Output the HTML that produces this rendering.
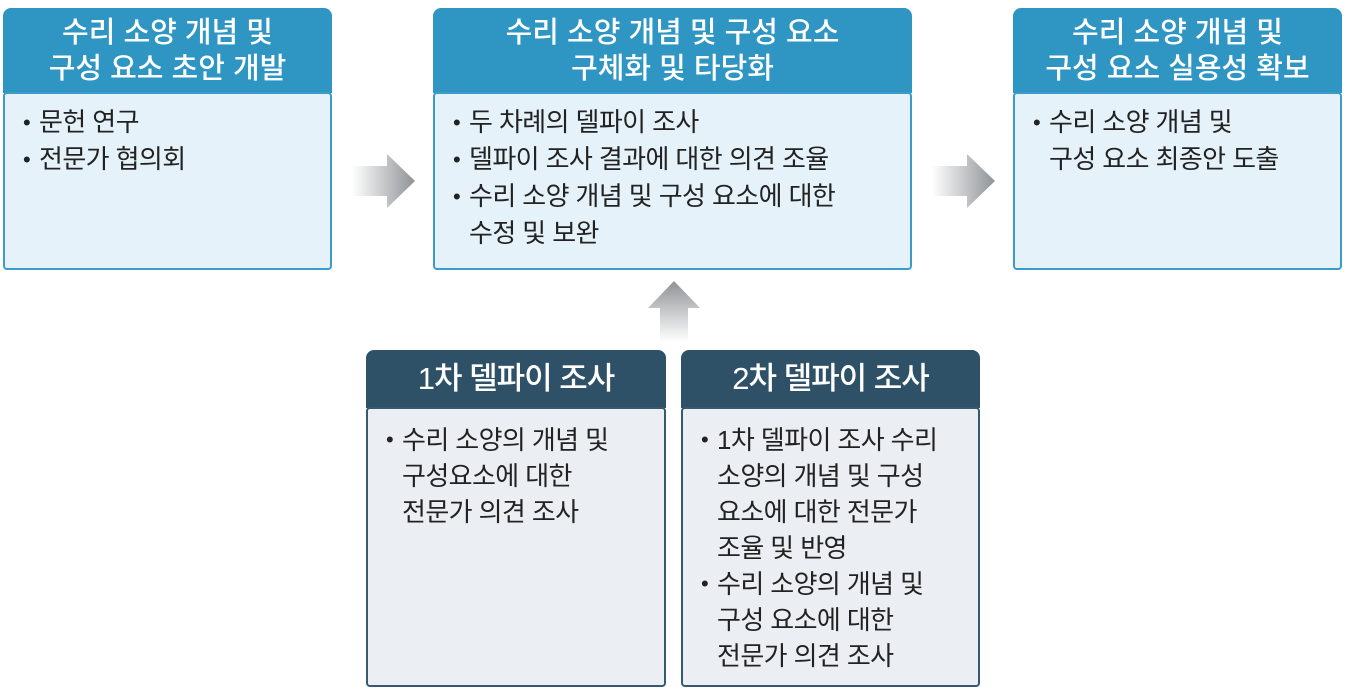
<!DOCTYPE html>
<html><head><meta charset="utf-8"><style>
body{margin:0;width:1346px;height:691px;background:#fff;position:relative;overflow:hidden;font-family:"Liberation Sans","Noto Sans CJK KR",sans-serif}
.h{position:absolute;color:#fff;text-align:center;border-radius:8px 8px 0 0;box-sizing:border-box;display:flex;align-items:center;justify-content:center;line-height:36px}
.b{position:absolute;box-sizing:border-box;border-radius:4px;color:#222;font-size:26px;letter-spacing:-0.6px;line-height:37px;padding:10px 8px 0 10px}
.blue .h{background:#2f96c4;font-size:29px;font-weight:500}
.blue .b{background:#e5f2fa;border:2px solid #3b9ccb}
.dark .h{background:#2f5168;font-size:31px;font-weight:500;letter-spacing:-1px}
.dark .b{background:#ebeff3;border:2px solid #385a70;line-height:36px;padding-top:13px}
ul{margin:0;padding:0 0 0 24px;list-style:none}
li{position:relative}
li:before{content:"•";position:absolute;left:-16px;font-size:22px}
</style></head><body>
<div class="blue">
<div class="h" style="left:3px;top:8px;width:329px;height:85px">수리 소양 개념 및<br>구성 요소 초안 개발</div>
<div class="b" style="left:3px;top:92px;width:329px;height:178px"><ul><li>문헌 연구</li><li>전문가 협의회</li></ul></div>
<div class="h" style="left:433px;top:8px;width:479px;height:85px">수리 소양 개념 및 구성 요소<br>구체화 및 타당화</div>
<div class="b" style="left:433px;top:92px;width:479px;height:178px"><ul><li>두 차례의 델파이 조사</li><li>델파이 조사 결과에 대한 의견 조율</li><li>수리 소양 개념 및 구성 요소에 대한<br>수정 및 보완</li></ul></div>
<div class="h" style="left:1013px;top:8px;width:329px;height:85px">수리 소양 개념 및<br>구성 요소 실용성 확보</div>
<div class="b" style="left:1013px;top:92px;width:329px;height:178px"><ul><li>수리 소양 개념 및<br>구성 요소 최종안 도출</li></ul></div>
</div>
<div class="dark">
<div class="h" style="left:366px;top:350px;width:300px;height:58px">1차 델파이 조사</div>
<div class="b" style="left:366px;top:407px;width:300px;height:280px"><ul><li>수리 소양의 개념 및<br>구성요소에 대한<br>전문가 의견 조사</li></ul></div>
<div class="h" style="left:681px;top:350px;width:299px;height:58px">2차 델파이 조사</div>
<div class="b" style="left:681px;top:407px;width:299px;height:280px"><ul><li>1차 델파이 조사 수리<br>소양의 개념 및 구성<br>요소에 대한 전문가<br>조율 및 반영</li><li>수리 소양의 개념 및<br>구성 요소에 대한<br>전문가 의견 조사</li></ul></div>
</div>
<svg width="1346" height="691" style="position:absolute;left:0;top:0" xmlns="http://www.w3.org/2000/svg">
<defs>
<linearGradient id="gr" x1="0" x2="1" y1="0" y2="0"><stop offset="0" stop-color="#fff"/><stop offset="1" stop-color="#8f9396"/></linearGradient>
<linearGradient id="gu" x1="0" x2="0" y1="1" y2="0"><stop offset="0" stop-color="#fff"/><stop offset="1" stop-color="#8f9396"/></linearGradient>
</defs>
<polygon points="352,166 387,166 387,154 415,181 387,208 387,196 352,196" fill="url(#gr)"/>
<polygon points="932,166 967,166 967,154 995,181 967,208 967,196 932,196" fill="url(#gr)"/>
<polygon points="660,342 660,308 648,308 674,281 700,308 688,308 688,342" fill="url(#gu)"/>
</svg>
</body></html>
